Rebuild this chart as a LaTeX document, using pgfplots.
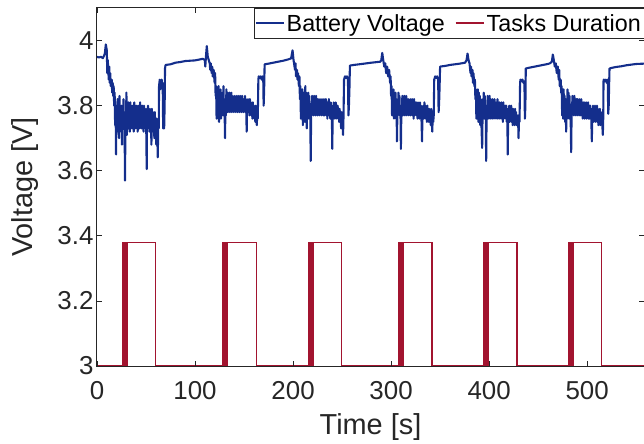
\documentclass[border=0pt]{standalone}
\usepackage{pgfplots}
\usepackage{pgfplotstable}
\pgfplotsset{compat=1.18}
\usepackage{fontspec}
\setmainfont{Liberation Sans}
\definecolor{battblue}{rgb}{0.08,0.18,0.55}
\definecolor{taskred}{rgb}{0.635,0.078,0.184}
\definecolor{axgray}{rgb}{0.15,0.15,0.15}

% battery voltage
\pgfplotstableread{
t v
0 3.950
2 3.948
4 3.950
6 3.946
7 3.952
8 3.960
9 3.988
10 3.970
10.5 3.900
11 3.940
12 3.880
12.5 3.920
13 3.870
13.5 3.900
14 3.860
15 3.880
15.5 3.840
16 3.870
16.5 3.830
17 3.860
17.5 3.800
18 3.840
18.5 3.740
19 3.800
19.4 3.650
19.8 3.780
20 3.80
20.5 3.72
21 3.82
21.5 3.74
22 3.79
22.5 3.70
23 3.83
23.5 3.73
24 3.78
24.5 3.72
25 3.80
25.5 3.68
26 3.79
26.5 3.74
27 3.82
27.5 3.73
28 3.78
28.6 3.57
29 3.76
29.5 3.73
30 3.84
30.5 3.71
31 3.80
31.5 3.74
32 3.81
32.5 3.73
33 3.79
33.5 3.72
34 3.81
34.5 3.74
35 3.78
35.5 3.73
36 3.80
36.5 3.74
37 3.79
37.5 3.72
38 3.81
38.5 3.74
39 3.78
39.5 3.73
40 3.80
40.5 3.74
41 3.79
41.5 3.72
42 3.80
42.5 3.74
43 3.78
43.5 3.73
44 3.81
44.5 3.74
45 3.79
45.5 3.73
46 3.80
46.5 3.74
47 3.78
47.5 3.72
48 3.80
48.5 3.74
49 3.78
49.5 3.73
50 3.79
50.7 3.605
51 3.77
51.5 3.73
52 3.80
52.5 3.74
53 3.78
53.5 3.72
54 3.79
54.5 3.73
55 3.77
55.5 3.68
56 3.79
56.5 3.73
57 3.78
57.5 3.72
58 3.76
58.5 3.70
59 3.78
59.5 3.72
60 3.75
60.5 3.68
61 3.76
61.5 3.71
62 3.641
62.5 3.75
63 3.73
63.3 3.86
64 3.88
64.5 3.85
65 3.87
65.5 3.86
66 3.88
66.5 3.86
67 3.87
67.5 3.73
68.5 3.73
69 3.80
69.4 3.915
70 3.925
75 3.927
80 3.932
85 3.934
90 3.937
95 3.938
100 3.939
105 3.942
108 3.944
110 3.940
110.5 3.920
111 3.945
112 3.983
113 3.950
114 3.94
115 3.93
115.5 3.91
116 3.93
117 3.90
117.5 3.92
118 3.89
119 3.91
120 3.87
120.5 3.90
121 3.83
121.5 3.86
122 3.76
122.5 3.84
123 3.83
123.5 3.77
124 3.86
124.5 3.75
125 3.84
125.5 3.78
126 3.85
126.5 3.76
127 3.83
127.5 3.79
128 3.84
128.5 3.77
129 3.86
129.5 3.78
130 3.82
130.6 3.70
131 3.80
131.5 3.77
132 3.85
132.5 3.79
133 3.84
133.5 3.78
134 3.83
134.5 3.79
135 3.84
135.5 3.78
136 3.83
136.5 3.79
137 3.84
137.5 3.78
138 3.83
138.5 3.79
139 3.82
139.5 3.78
140 3.83
140.5 3.79
141 3.82
141.5 3.78
142 3.83
142.5 3.79
143 3.82
143.5 3.78
144 3.83
144.5 3.79
145 3.82
145.5 3.78
146 3.83
146.5 3.79
147 3.82
147.5 3.78
148 3.83
148.5 3.79
149 3.82
149.5 3.78
150 3.82
150.5 3.79
151 3.83
151.5 3.78
152 3.82
152.7 3.72
153 3.80
153.5 3.78
154 3.82
154.5 3.78
155 3.81
155.5 3.77
156 3.82
156.5 3.78
157 3.81
157.5 3.77
158 3.80
158.5 3.76
159 3.81
159.5 3.77
160 3.80
160.5 3.76
161 3.79
161.5 3.75
162 3.80
162.5 3.76
163 3.74
163.5 3.78
164 3.76
164.6 3.88
165 3.89
166 3.885
167 3.89
168 3.88
169 3.89
169.6 3.88
170 3.80
170.5 3.85
171 3.927
175 3.929
180 3.932
185 3.935
190 3.938
195 3.942
198 3.945
199.5 3.970
200.5 3.940
201 3.93
202 3.91
202.5 3.93
203 3.89
204 3.91
204.5 3.88
205 3.90
206 3.86
206.5 3.89
207 3.82
207.5 3.86
208 3.76
208.5 3.84
209 3.78
209.5 3.85
210 3.74
210.5 3.84
211 3.76
211.5 3.83
212 3.75
212.5 3.86
213 3.77
213.5 3.84
214 3.73
214.5 3.82
215 3.77
215.5 3.84
216 3.76
216.5 3.83
217 3.78
217.5 3.80
218 3.63
218.5 3.79
219 3.77
219.5 3.83
220 3.78
220.5 3.82
221 3.77
221.5 3.83
222 3.78
222.5 3.82
223 3.77
223.5 3.83
224 3.78
224.5 3.82
225 3.77
225.5 3.82
226 3.78
226.5 3.81
227 3.77
227.5 3.82
228 3.78
228.5 3.81
229 3.77
229.5 3.82
230 3.78
230.5 3.81
231 3.77
231.5 3.82
232 3.77
232.5 3.81
233 3.78
233.5 3.82
234 3.77
234.5 3.81
235 3.76
235.5 3.81
236 3.77
236.5 3.82
237 3.77
237.5 3.80
238 3.76
238.5 3.81
239 3.77
239.5 3.80
240 3.667
240.5 3.79
241 3.77
241.5 3.81
242 3.76
242.5 3.80
243 3.77
243.5 3.81
244 3.76
244.5 3.80
245 3.77
245.5 3.80
246 3.76
246.5 3.79
247 3.75
247.5 3.79
248 3.76
248.5 3.78
249 3.73
249.5 3.78
250 3.76
250.5 3.77
251 3.71
251.5 3.77
252 3.88
253 3.89
254 3.885
255 3.89
256 3.88
256.5 3.77
257 3.80
257.5 3.85
258 3.923
262 3.925
270 3.928
280 3.932
289 3.935
290 3.940
291 3.962
292 3.940
293 3.92
294 3.93
295 3.90
296 3.92
297 3.89
298 3.91
299 3.87
299.5 3.89
300 3.83
300.5 3.86
301 3.77
301.5 3.84
302 3.78
302.5 3.85
303 3.76
303.5 3.83
304 3.77
304.5 3.84
305 3.76
305.5 3.82
306 3.69
306.5 3.80
307 3.77
307.5 3.84
308 3.78
308.5 3.83
309 3.77
309.5 3.80
310 3.667
310.5 3.79
311 3.78
311.5 3.83
312 3.77
312.5 3.82
313 3.78
313.5 3.83
314 3.77
314.5 3.82
315 3.78
315.5 3.83
316 3.77
316.5 3.82
317 3.78
317.5 3.82
318 3.77
318.5 3.81
319 3.78
319.5 3.82
320 3.77
320.5 3.81
321 3.78
321.5 3.82
322 3.77
322.5 3.81
323 3.76
323.5 3.82
324 3.77
324.5 3.81
325 3.78
325.5 3.81
326 3.77
326.5 3.80
327 3.76
327.5 3.81
328 3.77
328.5 3.80
329 3.76
329.5 3.81
330 3.77
330.5 3.80
331 3.76
331.6 3.69
332 3.79
332.5 3.77
333 3.80
333.5 3.76
334 3.81
334.5 3.77
335 3.80
335.5 3.76
336 3.79
336.5 3.75
337 3.80
337.5 3.76
338 3.79
338.5 3.75
339 3.79
339.5 3.76
340 3.78
340.5 3.74
341 3.79
341.5 3.75
342 3.72
342.5 3.77
343 3.75
343.5 3.77
344 3.88
345 3.89
346 3.885
347 3.89
348 3.88
348.5 3.78
349 3.81
349.5 3.86
350 3.920
355 3.922
360 3.925
365 3.927
370 3.929
375.5 3.932
377 3.940
378 3.960
379 3.940
380 3.93
381 3.90
381.5 3.92
382 3.89
383 3.91
383.5 3.87
384 3.90
385 3.86
385.5 3.88
386 3.82
386.5 3.85
387 3.76
387.5 3.83
388 3.77
388.5 3.85
389 3.75
389.5 3.84
390 3.77
390.5 3.83
391 3.74
391.5 3.82
392 3.76
392.9 3.67
393.5 3.82
394 3.77
394.5 3.84
395 3.76
395.5 3.83
396 3.77
396.5 3.80
397 3.63
397.5 3.79
398 3.77
398.5 3.83
399 3.76
399.5 3.82
400 3.77
400.5 3.83
401 3.76
401.5 3.82
402 3.77
402.5 3.81
403 3.76
403.5 3.82
404 3.77
404.5 3.81
405 3.76
405.5 3.82
406 3.77
406.5 3.81
407 3.76
407.5 3.81
408 3.77
408.5 3.82
409 3.76
409.5 3.81
410 3.77
410.5 3.81
411 3.76
411.5 3.80
412 3.77
412.5 3.81
413 3.76
413.5 3.80
414 3.75
414.5 3.81
415 3.76
415.5 3.80
416 3.77
416.5 3.80
417 3.76
417.5 3.80
418 3.75
418.5 3.79
419 3.65
419.5 3.79
420 3.76
420.5 3.80
421 3.75
421.5 3.79
422 3.76
422.5 3.80
423 3.75
423.5 3.79
424 3.74
424.5 3.79
425 3.75
425.5 3.78
426 3.74
426.5 3.79
427 3.75
427.5 3.78
428 3.74
428.5 3.77
429 3.75
429.5 3.77
430 3.70
430.5 3.76
431 3.75
431.6 3.87
432 3.88
433 3.875
434 3.88
435 3.87
436 3.875
436.5 3.76
437 3.80
437.4 3.914
440 3.916
445 3.919
450 3.922
455 3.925
460 3.928
462 3.930
464 3.935
465 3.957
466 3.940
467 3.92
468 3.93
469 3.90
470 3.92
471 3.88
471.5 3.91
472 3.86
473 3.88
473.5 3.84
474 3.86
474.5 3.77
475 3.84
475.5 3.76
476 3.85
476.5 3.77
477 3.83
477.5 3.75
478 3.82
478.6 3.72
479 3.81
479.5 3.76
480 3.85
480.5 3.77
481 3.84
481.5 3.76
482 3.83
482.5 3.77
483 3.80
483.7 3.657
484.2 3.79
484.5 3.77
485 3.83
485.5 3.78
486 3.82
486.5 3.77
487 3.83
487.5 3.78
488 3.82
488.5 3.77
489 3.82
489.5 3.78
490 3.82
490.5 3.77
491 3.81
491.5 3.78
492 3.82
492.5 3.77
493 3.81
493.5 3.77
494 3.82
494.5 3.77
495 3.81
495.5 3.76
496 3.81
496.5 3.77
497 3.81
497.5 3.76
498 3.80
498.5 3.77
499 3.81
499.5 3.76
500 3.80
500.5 3.77
501 3.81
501.5 3.76
502 3.80
502.5 3.76
503 3.80
503.5 3.77
504 3.79
504.8 3.69
505.2 3.78
505.5 3.76
506 3.80
506.5 3.75
507 3.79
507.5 3.76
508 3.80
508.5 3.75
509 3.79
509.5 3.76
510 3.80
510.5 3.75
511 3.79
511.5 3.74
512 3.78
512.5 3.75
513 3.79
513.5 3.74
514 3.78
514.5 3.75
515 3.77
515.5 3.74
516 3.71
516.4 3.76
516.7 3.875
517 3.88
518 3.875
519 3.88
520 3.87
521 3.88
521.5 3.775
522 3.80
522.4 3.86
522.8 3.914
525 3.916
530 3.919
535 3.921
540 3.924
545 3.926
550 3.928
558 3.929
}\voltage

% task on/off trace (3 = idle, 3.38 = running)
\pgfplotstableread{
t v
0 3
25.8 3
25.8 3.38
26.5 3.38
26.5 3
27.2 3
27.2 3.38
28.0 3.38
28.0 3
28.8 3
28.8 3.38
30.4 3.38
30.4 3
30.8 3
30.8 3.38
60.0 3.38
60.0 3
128.0 3
128.0 3.38
128.7 3.38
128.7 3
129.4 3
129.4 3.38
130.2 3.38
130.2 3
131.0 3
131.0 3.38
132.6 3.38
132.6 3
133.0 3
133.0 3.38
162.5 3.38
162.5 3
215.6 3
215.6 3.38
216.3 3.38
216.3 3
217.0 3
217.0 3.38
217.8 3.38
217.8 3
218.6 3
218.6 3.38
220.2 3.38
220.2 3
220.6 3
220.6 3.38
249.7 3.38
249.7 3
307.5 3
307.5 3.38
308.2 3.38
308.2 3
308.9 3
308.9 3.38
309.7 3.38
309.7 3
310.5 3
310.5 3.38
312.1 3.38
312.1 3
312.5 3
312.5 3.38
341.8 3.38
341.8 3
394.2 3
394.2 3.38
394.9 3.38
394.9 3
395.6 3
395.6 3.38
396.4 3.38
396.4 3
397.2 3
397.2 3.38
398.8 3.38
398.8 3
399.2 3
399.2 3.38
428.3 3.38
428.3 3
481.0 3
481.0 3.38
481.7 3.38
481.7 3
482.4 3
482.4 3.38
483.2 3.38
483.2 3
484.0 3
484.0 3.38
485.6 3.38
485.6 3
486.0 3
486.0 3.38
514.6 3.38
514.6 3
558 3
}\tasks

\begin{document}
\begin{tikzpicture}
\begin{axis}[
    scale only axis,
    width=547bp, height=358bp,
    xmin=0, xmax=558,
    ymin=3, ymax=4.1,
    axis on top,
    xtick={0,100,...,500},
    ytick={3,3.2,...,4.01},
    yticklabel style={/pgf/number format/fixed, /pgf/number format/precision=1},
    /pgf/number format/assume math mode=true,
    tick align=inside,
    major tick length=5bp,
    axis line style={axgray, line width=1bp},
    every tick/.style={axgray, line width=0.7bp},
    ticklabel style={font=\fontsize{26}{28}\selectfont, text=axgray},
    xticklabel style={yshift=-12bp},
    xlabel={Time [s]},
    ylabel={Voltage [V]},
    label style={font=\fontsize{29}{31}\selectfont, text=axgray},
    xlabel style={at={(axis description cs:0.5,-0.19)}, anchor=base},
    ylabel style={at={(axis description cs:-0.117,0.5)}, anchor=base},
    legend columns=2,
    legend style={at={(1,1)}, anchor=north east, draw=axgray,
        font=\fontsize{23.4}{25}\selectfont, inner xsep=1bp, inner ysep=4bp,
        /tikz/every even column/.append style={column sep=8bp}},
    legend cell align=left,
  ]
  \addlegendimage{legend image code/.code={\draw[color=battblue, line width=1.8bp] (0bp,0bp) -- (28bp,0bp);}}
  \addlegendentry{Battery Voltage}
  \addlegendimage{legend image code/.code={\draw[color=taskred, line width=1.8bp] (0bp,0bp) -- (28bp,0bp);}}
  \addlegendentry{Tasks Duration}
  \addplot[battblue, line width=2.1bp, line join=round, forget plot] table[x=t, y=v] {\voltage};
  \addplot[taskred, line width=1.3bp, forget plot] table[x=t, y=v] {\tasks};
\end{axis}
\pgfresetboundingbox
\path[use as bounding box] ([xshift=-97bp, yshift=-78bp]current axis.south west) rectangle ([yshift=8bp]current axis.north east);
\end{tikzpicture}
\end{document}
